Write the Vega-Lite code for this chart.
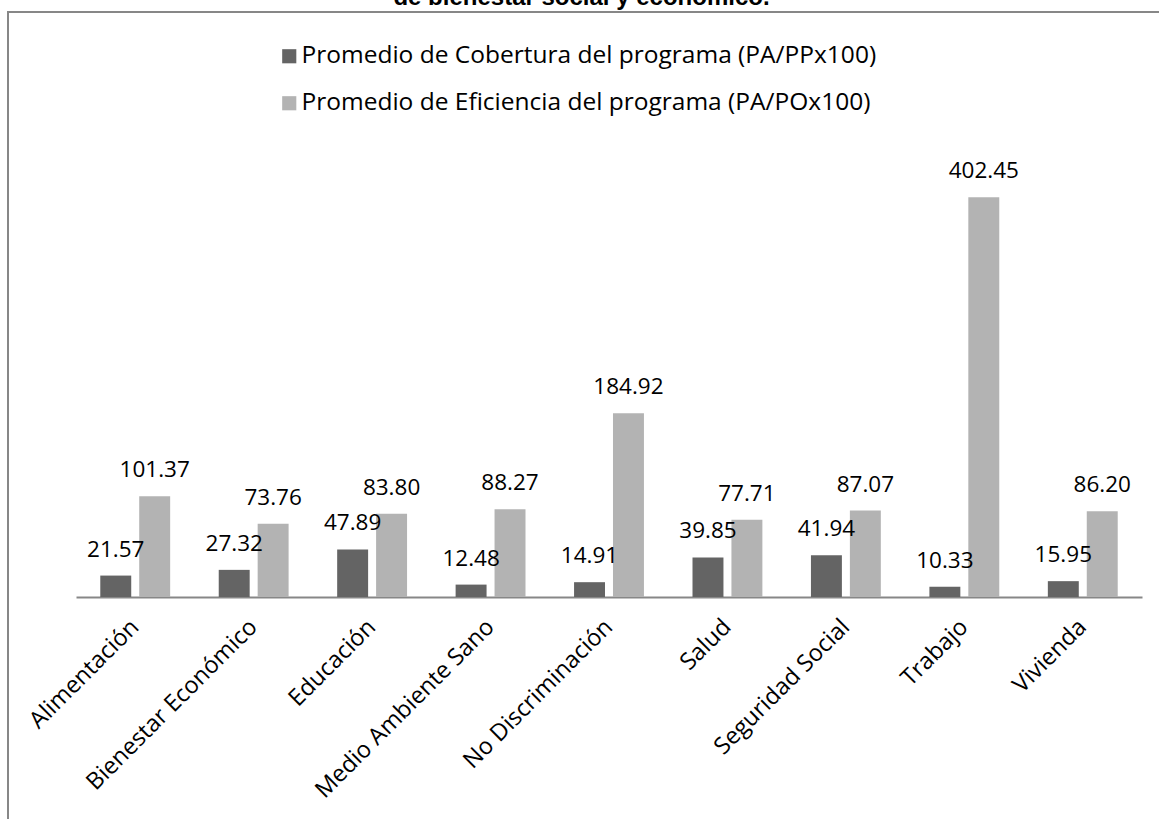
{
  "$schema": "https://vega.github.io/schema/vega-lite/v6.json",
  "autosize": {"type": "none"},
  "padding": {"left": 8, "top": 12, "right": 0, "bottom": 0},
  "width": 1161,
  "height": 817,
  "background": "white",
  "title": {
    "text": "de bienestar social y económico.",
    "font": "Liberation Sans",
    "fontSize": 24,
    "fontWeight": "bold",
    "color": "#000000",
    "anchor": "middle",
    "offset": 2,
    "dx": -7
  },
  "config": {
    "view": {"stroke": "#878787", "strokeWidth": 2},
    "font": "Open Sans"
  },
  "data": {
    "values": [
      {"categoria": "Alimentación", "serie": "Promedio de Cobertura del programa (PA/PPx100)", "valor": 21.57},
      {"categoria": "Alimentación", "serie": "Promedio de Eficiencia del programa (PA/POx100)", "valor": 101.37},
      {"categoria": "Bienestar Económico", "serie": "Promedio de Cobertura del programa (PA/PPx100)", "valor": 27.32},
      {"categoria": "Bienestar Económico", "serie": "Promedio de Eficiencia del programa (PA/POx100)", "valor": 73.76},
      {"categoria": "Educación", "serie": "Promedio de Cobertura del programa (PA/PPx100)", "valor": 47.89},
      {"categoria": "Educación", "serie": "Promedio de Eficiencia del programa (PA/POx100)", "valor": 83.80},
      {"categoria": "Medio Ambiente Sano", "serie": "Promedio de Cobertura del programa (PA/PPx100)", "valor": 12.48},
      {"categoria": "Medio Ambiente Sano", "serie": "Promedio de Eficiencia del programa (PA/POx100)", "valor": 88.27},
      {"categoria": "No Discriminación", "serie": "Promedio de Cobertura del programa (PA/PPx100)", "valor": 14.91},
      {"categoria": "No Discriminación", "serie": "Promedio de Eficiencia del programa (PA/POx100)", "valor": 184.92},
      {"categoria": "Salud", "serie": "Promedio de Cobertura del programa (PA/PPx100)", "valor": 39.85},
      {"categoria": "Salud", "serie": "Promedio de Eficiencia del programa (PA/POx100)", "valor": 77.71},
      {"categoria": "Seguridad Social", "serie": "Promedio de Cobertura del programa (PA/PPx100)", "valor": 41.94},
      {"categoria": "Seguridad Social", "serie": "Promedio de Eficiencia del programa (PA/POx100)", "valor": 87.07},
      {"categoria": "Trabajo", "serie": "Promedio de Cobertura del programa (PA/PPx100)", "valor": 10.33},
      {"categoria": "Trabajo", "serie": "Promedio de Eficiencia del programa (PA/POx100)", "valor": 402.45},
      {"categoria": "Vivienda", "serie": "Promedio de Cobertura del programa (PA/PPx100)", "valor": 15.95},
      {"categoria": "Vivienda", "serie": "Promedio de Eficiencia del programa (PA/POx100)", "valor": 86.20}
    ]
  },
  "encoding": {
    "x": {
      "field": "categoria",
      "type": "nominal",
      "sort": null,
      "scale": {"range": [68, 1134], "paddingInner": 0.41, "paddingOuter": 0.205},
      "axis": {
        "title": null,
        "orient": "bottom",
        "offset": -232,
        "domainColor": "#878787",
        "domainWidth": 2,
        "ticks": false,
        "labelAngle": -45,
        "labelAlign": "right",
        "labelBaseline": "middle",
        "labelPadding": 26,
        "labelFont": "Open Sans",
        "labelFontSize": 23.5,
        "labelColor": "#000000",
        "labelLimit": 0
      }
    },
    "xOffset": {
      "field": "serie",
      "type": "nominal",
      "sort": ["Promedio de Cobertura del programa (PA/PPx100)", "Promedio de Eficiencia del programa (PA/POx100)"],
      "scale": {"paddingInner": 0.205, "paddingOuter": 0}
    },
    "y": {
      "field": "valor",
      "type": "quantitative",
      "scale": {"domain": [0, 450], "range": [585, 138], "nice": false, "zero": true},
      "axis": null
    }
  },
  "layer": [
    {
      "mark": {"type": "bar"},
      "encoding": {
        "color": {
          "field": "serie",
          "type": "nominal",
          "sort": ["Promedio de Cobertura del programa (PA/PPx100)", "Promedio de Eficiencia del programa (PA/POx100)"],
          "scale": {"range": ["#646464", "#b3b3b3"]},
          "legend": {
            "title": null,
            "orient": "none",
            "legendX": 269,
            "legendY": 32,
            "padding": 0,
            "direction": "vertical",
            "symbolType": "square",
            "symbolSize": 200,
            "symbolStrokeWidth": 0,
            "labelFont": "Open Sans",
            "labelFontSize": 24.5,
            "labelColor": "#000000",
            "labelLimit": 0,
            "labelOffset": 0,
            "rowPadding": 22
          }
        }
      }
    },
    {
      "mark": {"type": "text", "baseline": "alphabetic", "dy": -19, "font": "Open Sans", "fontSize": 22.5, "color": "#000000"},
      "encoding": {
        "text": {"field": "valor", "type": "quantitative", "format": ".2f"}
      }
    }
  ]
}
